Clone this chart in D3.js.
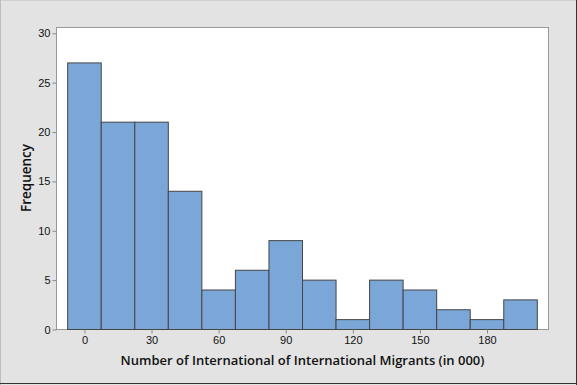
<!DOCTYPE html>
<html>
<head>
<meta charset="utf-8">
<script src="https://cdn.jsdelivr.net/npm/d3@7"></script>
<style>
  body { margin: 0; background: #e3e3e3; }
  svg { display: block; font-family: "Open Sans", "Noto Sans", sans-serif; }
</style>
</head>
<body>
<script>
// bin midpoints and counts
var binMids = [0, 15, 30, 45, 60, 75, 90, 105, 120, 135, 150, 165, 180, 195];
var counts = [27, 21, 21, 14, 4, 6, 9, 5, 1, 5, 4, 2, 1, 3];
var binWidth = 15;
var xTicks = [0, 30, 60, 90, 120, 150, 180];
var yTicks = [0, 5, 10, 15, 20, 25, 30];

var width = 577, height = 385;
var frame = {left: 56.5, right: 548.5, top: 27.5, bottom: 329.5};

var svg = d3.select('body').append('svg')
    .attr('width', width)
    .attr('height', height);

// outer panel
svg.append('rect').attr('x', 0).attr('y', 0).attr('width', width).attr('height', height).attr('fill', '#e3e3e3');
svg.append('line').attr('x1', 0).attr('x2', width).attr('y1', 0.5).attr('y2', 0.5).attr('stroke', '#cfcfcf');
svg.append('line').attr('x1', 0.5).attr('x2', 0.5).attr('y1', 0).attr('y2', height).attr('stroke', '#bdbdbd');
svg.append('line').attr('x1', width - 0.5).attr('x2', width - 0.5).attr('y1', 0).attr('y2', height).attr('stroke', '#333');
svg.append('line').attr('x1', 0).attr('x2', width).attr('y1', height - 1.5).attr('y2', height - 1.5).attr('stroke', '#333');

var x = d3.scaleLinear().domain([-12.5, 207.5]).range([frame.left, frame.right]);
var y = d3.scaleLinear().domain([0, 30]).range([frame.bottom, 33.3]);

// plot area
svg.append('rect')
    .attr('x', frame.left).attr('y', frame.top)
    .attr('width', frame.right - frame.left).attr('height', frame.bottom - frame.top)
    .attr('fill', '#fff').attr('stroke', '#999');

svg.selectAll('rect.bar')
    .data(counts)
    .enter()
    .append('rect')
    .attr('class', 'bar')
    .attr('x', function (d, i) { return x(binMids[i] - binWidth / 2); })
    .attr('y', function (d) { return y(d); })
    .attr('width', function (d, i) { return x(binMids[i] + binWidth / 2) - x(binMids[i] - binWidth / 2); })
    .attr('height', function (d) { return y(0) - y(d); })
    .attr('fill', '#7ba7d8')
    .attr('stroke', '#454545')
    .attr('stroke-width', 1);

var xAxis = svg.append('g')
    .attr('transform', 'translate(0,' + frame.bottom + ')')
    .call(d3.axisBottom(x).tickValues(xTicks).tickSize(4).tickPadding(3));
var yAxis = svg.append('g')
    .attr('transform', 'translate(' + frame.left + ',0)')
    .call(d3.axisLeft(y).tickValues(yTicks).tickSize(4).tickPadding(2));

[xAxis, yAxis].forEach(function (g) {
    g.select('.domain').remove();
    g.selectAll('.tick line').attr('stroke', '#888');
    g.selectAll('.tick text').attr('fill', '#111').style('font-size', '11px');
});

svg.append('text')
    .attr('x', 302.5)
    .attr('y', 365)
    .attr('text-anchor', 'middle')
    .style('font-size', '13px')
    .style('font-weight', 600)
    .attr('fill', '#111')
    .text('Number of International of International Migrants (in 000)');

svg.append('text')
    .attr('transform', 'translate(31,178) rotate(-90)')
    .attr('text-anchor', 'middle')
    .style('font-size', '13.5px')
    .style('font-weight', 600)
    .attr('fill', '#111')
    .text('Frequency');
</script>
</body>
</html>
